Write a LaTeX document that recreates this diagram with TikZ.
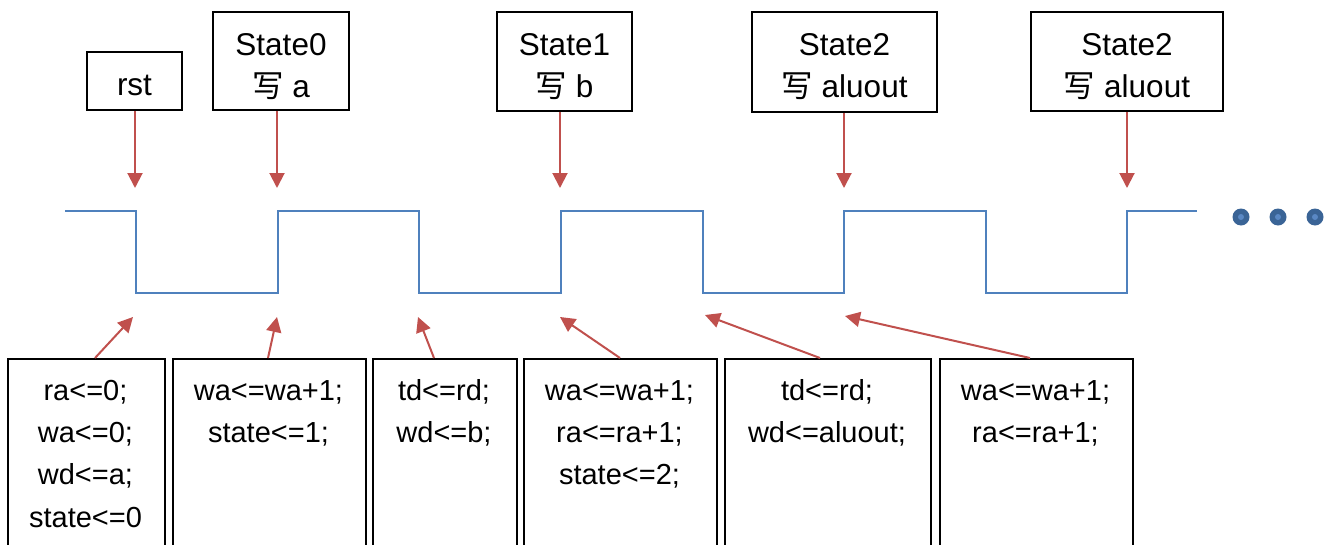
\documentclass[tikz,border=0pt]{standalone}
\usepackage{fontspec}
\setmainfont{Liberation Sans}
\newfontfamily\cjk{Noto Sans CJK SC}
\usetikzlibrary{arrows.meta,calc}
\definecolor{arrowred}{HTML}{C0504D}
\definecolor{wavecol}{HTML}{4F81BD}
\definecolor{dotdark}{HTML}{3A6496}
\definecolor{dotlight}{HTML}{5A88C4}
\tikzset{
  statebox/.style={draw=black, line width=2.3pt, align=center, inner sep=0pt,
    font=\fontsize{31.5}{42}\selectfont, text depth=0pt},
  codebox/.style={draw=black, line width=2.3pt, inner sep=0pt, anchor=north west,
    minimum height=200pt},
  codetext/.style={align=center, inner sep=0pt, anchor=base,
    font=\fontsize{29}{42.3}\selectfont},
  redarrow/.style={draw=arrowred, line width=2pt,
    -{Triangle[length=15pt,width=15pt]}},
  wavepath/.style={draw=wavecol, line width=2pt},
}
\begin{document}
\begin{tikzpicture}[x=1pt,y=-1pt]
\useasboundingbox (0,0) rectangle (1328,544);

% state labels above the clock
\node[statebox, minimum width=95pt, minimum height=58pt, text height=28pt] (rst) at (134.5,81) {rst};
\node[statebox, minimum width=136pt, minimum height=98pt, text height=72pt] (s0) at (281,61) {State0\\{\cjk 写} a};
\node[statebox, minimum width=135pt, minimum height=99pt, text height=71pt] (s1) at (564.5,61.5) {State1\\{\cjk 写} b};
\node[statebox, minimum width=185pt, minimum height=100pt, text height=70pt] (s2a) at (844.5,62) {State2\\{\cjk 写} aluout};
\node[statebox, minimum width=192pt, minimum height=99pt, text height=71pt] (s2b) at (1127,61.5) {State2\\{\cjk 写} aluout};

% arrow ends on the rising/falling edges
\coordinate (r0) at (135,188);
\coordinate (r1) at (277,188);
\coordinate (r2) at (560,188);
\coordinate (r3) at (844,188);
\coordinate (r4) at (1127,188);

\draw[redarrow] (rst.south -| r0) -- (r0);
\draw[redarrow] (s0.south -| r1) -- (r1);
\draw[redarrow] (s1.south -| r2) -- (r2);
\draw[redarrow] (s2a.south -| r3) -- (r3);
\draw[redarrow] (s2b.south -| r4) -- (r4);

% clock waveform
\draw[wavepath] (65,211) -| (136,293) -| (278,211) -| (419,293) -| (561,211)
  -| (703,293) -| (844,211) -| (986,293) -| (1127,211) -- (1197,211);

% continuation dots
\foreach \x in {1241,1278,1315}{
  \fill[dotdark] (\x,217) circle (8.5pt);
  \fill[dotlight] (\x,217) circle (3pt);
}

% register assignments below the clock
\node[codebox, minimum width=157pt] (b1) at (7,358) {};
\node[codebox, minimum width=193pt] (b2) at (172,358) {};
\node[codebox, minimum width=144pt] (b3) at (372,358) {};
\node[codebox, minimum width=193pt] (b4) at (523,358) {};
\node[codebox, minimum width=206pt] (b5) at (724,358) {};
\node[codebox, minimum width=193pt] (b6) at (939,358) {};

% text anchored at the baseline of its last line
\node[codetext] (c1) at (85.5,527) {ra<=0;\\wa<=0;\\wd<=a;\\state<=0};
\node[codetext] (c2) at (268.5,442.3) {wa<=wa+1;\\state<=1;};
\node[codetext] (c3) at (444,442.3) {td<=rd;\\wd<=b;};
\node[codetext] (c4) at (619.5,484.6) {wa<=wa+1;\\ra<=ra+1;\\state<=2;};
\node[codetext] (c5) at (827,442.3) {td<=rd;\\wd<=aluout;};
\node[codetext] (c6) at (1035.5,442.3) {wa<=wa+1;\\ra<=ra+1;};

\coordinate (u1) at (133,317);
\coordinate (u2) at (277,317);
\coordinate (u3) at (418,317);
\coordinate (u4) at (560,317);
\coordinate (u5) at (705,315);
\coordinate (u6) at (845,316);

\draw[redarrow] ($(b1.north west)+(88,0)$) -- (u1);
\draw[redarrow] ($(b2.north west)+(96,0)$) -- (u2);
\draw[redarrow] ($(b3.north west)+(62,0)$) -- (u3);
\draw[redarrow] ($(b4.north west)+(97,0)$) -- (u4);
\draw[redarrow] ($(b5.north west)+(96,0)$) -- (u5);
\draw[redarrow] ($(b6.north west)+(91,0)$) -- (u6);
\end{tikzpicture}
\end{document}
